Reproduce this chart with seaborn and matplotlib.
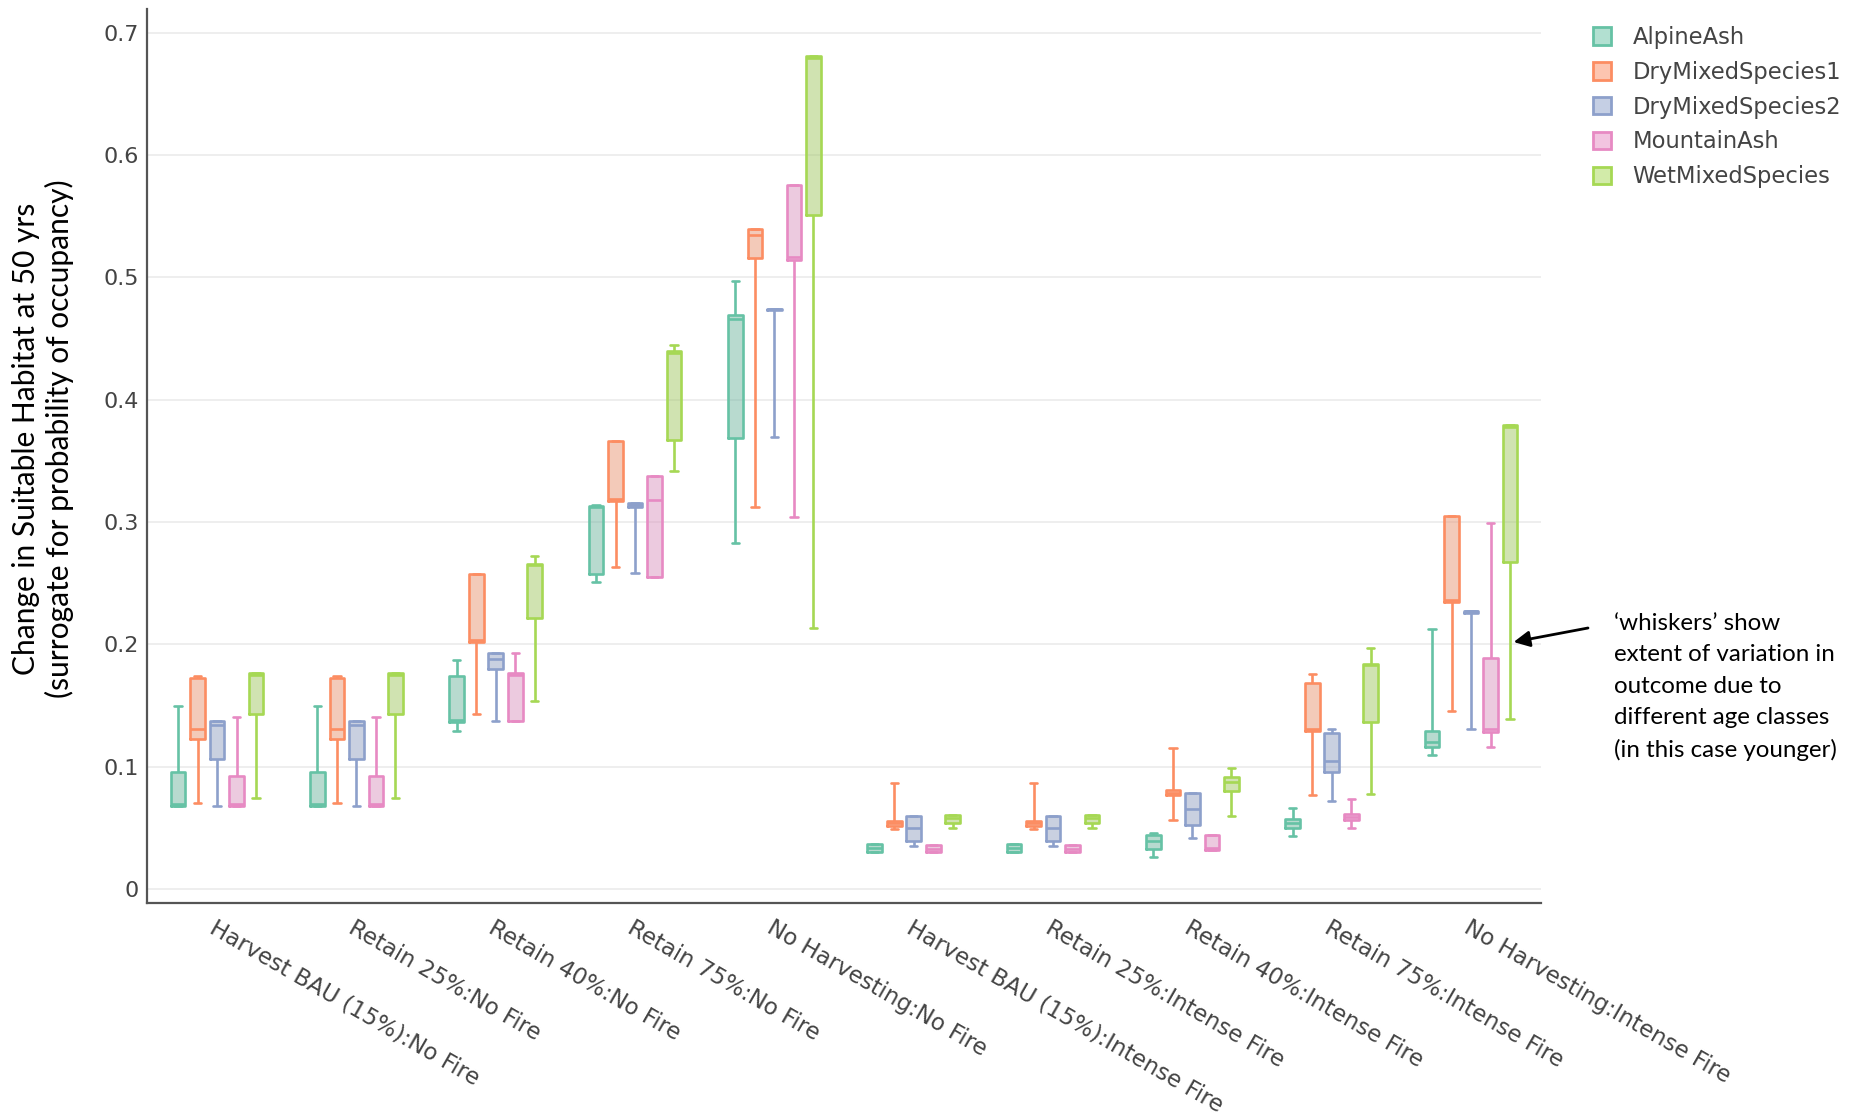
import numpy as np
import pandas as pd
import matplotlib
matplotlib.use("Agg")
import matplotlib.pyplot as plt
from matplotlib.patches import Patch
from matplotlib.colors import to_rgba
import seaborn as sns

# Scenario names (x axis)
scenarios = [
    "Harvest BAU (15%):No Fire",
    "Retain 25%:No Fire",
    "Retain 40%:No Fire",
    "Retain 75%:No Fire",
    "No Harvesting:No Fire",
    "Harvest BAU (15%):Intense Fire",
    "Retain 25%:Intense Fire",
    "Retain 40%:Intense Fire",
    "Retain 75%:Intense Fire",
    "No Harvesting:Intense Fire",
]

forest_types = ["AlpineAsh", "DryMixedSpecies1", "DryMixedSpecies2",
                "MountainAsh", "WetMixedSpecies"]

# Five-number summaries per scenario: (min, q1, median, q3, max)
alpine_ash = [
    (0.068, 0.068, 0.070, 0.0956, 0.150),
    (0.068, 0.068, 0.070, 0.0956, 0.150),
    (0.129, 0.137, 0.138, 0.174, 0.187),
    (0.251, 0.258, 0.312, 0.313, 0.314),
    (0.283, 0.369, 0.466, 0.469, 0.497),
    (0.030, 0.030, 0.0335, 0.037, 0.037),
    (0.030, 0.030, 0.0335, 0.037, 0.037),
    (0.026, 0.033, 0.039, 0.044, 0.046),
    (0.0435, 0.050, 0.054, 0.057, 0.066),
    (0.110, 0.1165, 0.120, 0.1296, 0.213),
]
dry_mixed_1 = [
    (0.0707, 0.1226, 0.1307, 0.173, 0.1746),
    (0.0707, 0.1226, 0.1307, 0.173, 0.1746),
    (0.143, 0.202, 0.204, 0.2575, 0.2575),
    (0.2637, 0.3174, 0.319, 0.3665, 0.3665),
    (0.3126, 0.5155, 0.535, 0.5398, 0.5398),
    (0.049, 0.052, 0.054, 0.056, 0.0866),
    (0.049, 0.052, 0.054, 0.056, 0.0866),
    (0.0566, 0.077, 0.079, 0.081, 0.1152),
    (0.077, 0.1296, 0.131, 0.1689, 0.1757),
    (0.1457, 0.2346, 0.236, 0.3046, 0.3046),
]
dry_mixed_2 = [
    (0.068, 0.106, 0.134, 0.1375, 0.1375),
    (0.068, 0.106, 0.134, 0.1375, 0.1375),
    (0.1375, 0.180, 0.188, 0.193, 0.1934),
    (0.2588, 0.3125, 0.314, 0.3155, 0.3155),
    (0.3693, 0.473, 0.474, 0.4744, 0.4744),
    (0.0353, 0.0397, 0.0498, 0.0598, 0.0598),
    (0.0353, 0.0397, 0.0498, 0.0598, 0.0598),
    (0.0421, 0.0525, 0.0653, 0.0784, 0.0784),
    (0.0721, 0.0961, 0.1048, 0.128, 0.131),
    (0.1307, 0.226, 0.227, 0.2275, 0.2275),
]
mountain_ash = [
    (0.068, 0.068, 0.070, 0.0925, 0.141),
    (0.068, 0.068, 0.070, 0.0925, 0.141),
    (0.1375, 0.1375, 0.175, 0.177, 0.1934),
    (0.2555, 0.2555, 0.318, 0.3373, 0.3373),
    (0.3042, 0.5146, 0.517, 0.5754, 0.5754),
    (0.030, 0.030, 0.0332, 0.0361, 0.0361),
    (0.030, 0.030, 0.0332, 0.0361, 0.0361),
    (0.032, 0.032, 0.034, 0.0443, 0.0443),
    (0.0503, 0.0566, 0.059, 0.0612, 0.0738),
    (0.1165, 0.1288, 0.131, 0.1888, 0.2992),
]
wet_mixed = [
    (0.0743, 0.143, 0.175, 0.177, 0.177),
    (0.0743, 0.143, 0.175, 0.177, 0.177),
    (0.1535, 0.2216, 0.265, 0.266, 0.272),
    (0.3414, 0.3673, 0.438, 0.4395, 0.4444),
    (0.2136, 0.5511, 0.679, 0.6806, 0.6806),
    (0.0498, 0.0544, 0.058, 0.0607, 0.0607),
    (0.0498, 0.0544, 0.058, 0.0607, 0.0607),
    (0.0599, 0.0803, 0.0874, 0.092, 0.0988),
    (0.0776, 0.137, 0.183, 0.1839, 0.197),
    (0.1392, 0.2678, 0.378, 0.379, 0.379),
]

y_ticks = [0, 0.1, 0.2, 0.3, 0.4, 0.5, 0.6, 0.7]
y_tick_labels = ["0", "0.1", "0.2", "0.3", "0.4", "0.5", "0.6", "0.7"]

# Long table: each five-number summary becomes five observations, so the
# box quartiles land exactly on the summary values.
rows = []
for ftype, series in zip(forest_types,
                         [alpine_ash, dry_mixed_1, dry_mixed_2, mountain_ash, wet_mixed]):
    for scen, summary in zip(scenarios, series):
        for v in summary:
            rows.append({"Scenario": scen, "Type": ftype, "Value": v})
df = pd.DataFrame(rows)

sns.set_style("white")
plt.rcParams["font.family"] = ["DejaVu Sans"]

palette = sns.color_palette("Set2", 5)
colors = dict(zip(forest_types, palette))

fig = plt.figure(figsize=(18.64, 11.15), dpi=100)
ax = fig.add_axes([0.0791, 0.1897, 0.8266 - 0.0791, 0.9915 - 0.1897])

box_width = 0.7
box_gap = 0.25
common = dict(data=df, x="Scenario", y="Value", hue="Type", order=scenarios,
              hue_order=forest_types, palette=colors, width=box_width,
              gap=box_gap, whis=(0, 100), legend=False, ax=ax)

# translucent fills
sns.boxplot(**common, fill=True, showcaps=False,
            boxprops=dict(alpha=0.5, linewidth=0),
            whiskerprops=dict(linewidth=0), medianprops=dict(linewidth=0))
# coloured outlines, medians and whiskers
sns.boxplot(**common, fill=False, linewidth=1.9)

ax.set_xlim(-0.5, 9.5)
ax.set_ylim(-0.0117, 0.719)
ax.set_yticks(y_ticks)
ax.set_yticklabels(y_tick_labels)
ax.set_xlabel("")
ax.set_ylabel("")
ax.yaxis.grid(True, color="#ebebeb", linewidth=1.2)
ax.set_axisbelow(True)
sns.despine(ax=ax)
for side in ("left", "bottom"):
    ax.spines[side].set_color("#555555")
    ax.spines[side].set_linewidth(1.6)

ax.tick_params(axis="y", length=0, pad=6, labelsize=16, labelcolor="#444444")
ax.tick_params(axis="x", length=0, pad=9, labelsize=16.5, labelcolor="#444444")
for lab in ax.get_xticklabels():
    lab.set_rotation(-30)
    lab.set_ha("left")
    lab.set_va("top")
    lab.set_rotation_mode("anchor")

# y-axis title
fig.text(43 / 1864, 1 - 439 / 1115,
         "Change in Suitable Habitat at 50 yrs\n(surrogate for probability of occupancy)",
         rotation=90, ha="center", va="center", multialignment="center",
         fontsize=21.5, color="black", linespacing=1.2,
         family=["Lato", "DejaVu Sans"])

# legend
handles = [Patch(facecolor=to_rgba(colors[t], 0.5), edgecolor=colors[t],
                 linewidth=2, label=t) for t in forest_types]
fig.legend(handles=handles, loc="upper left",
           bbox_to_anchor=(1593 / 1864, 1 - 26 / 1115), frameon=False,
           fontsize=16.3, handlelength=0.8, handleheight=0.8,
           handletextpad=0.95, labelspacing=0.52, labelcolor="#444444",
           borderaxespad=0, borderpad=0)

# note with arrow pointing at the whisker
step = box_width / len(forest_types)
arrow_x = 9 + 2 * step + 0.025
ax.annotate("", xy=(arrow_x, 0.202), xycoords="data",
            xytext=(1588 / 1864, 1 - 628 / 1115), textcoords="figure fraction",
            arrowprops=dict(arrowstyle="-|>", color="black", lw=2,
                            mutation_scale=24, shrinkA=0, shrinkB=0))
fig.text(1614 / 1864, 1 - 613 / 1115,
         "\u2018whiskers\u2019 show\nextent of variation in\noutcome due to\n"
         "different age classes\n(in this case younger)",
         ha="left", va="top", fontsize=17.4, color="black", linespacing=1.61,
         family=["Lato", "DejaVu Sans"])

fig.savefig("out.png", dpi=100)
